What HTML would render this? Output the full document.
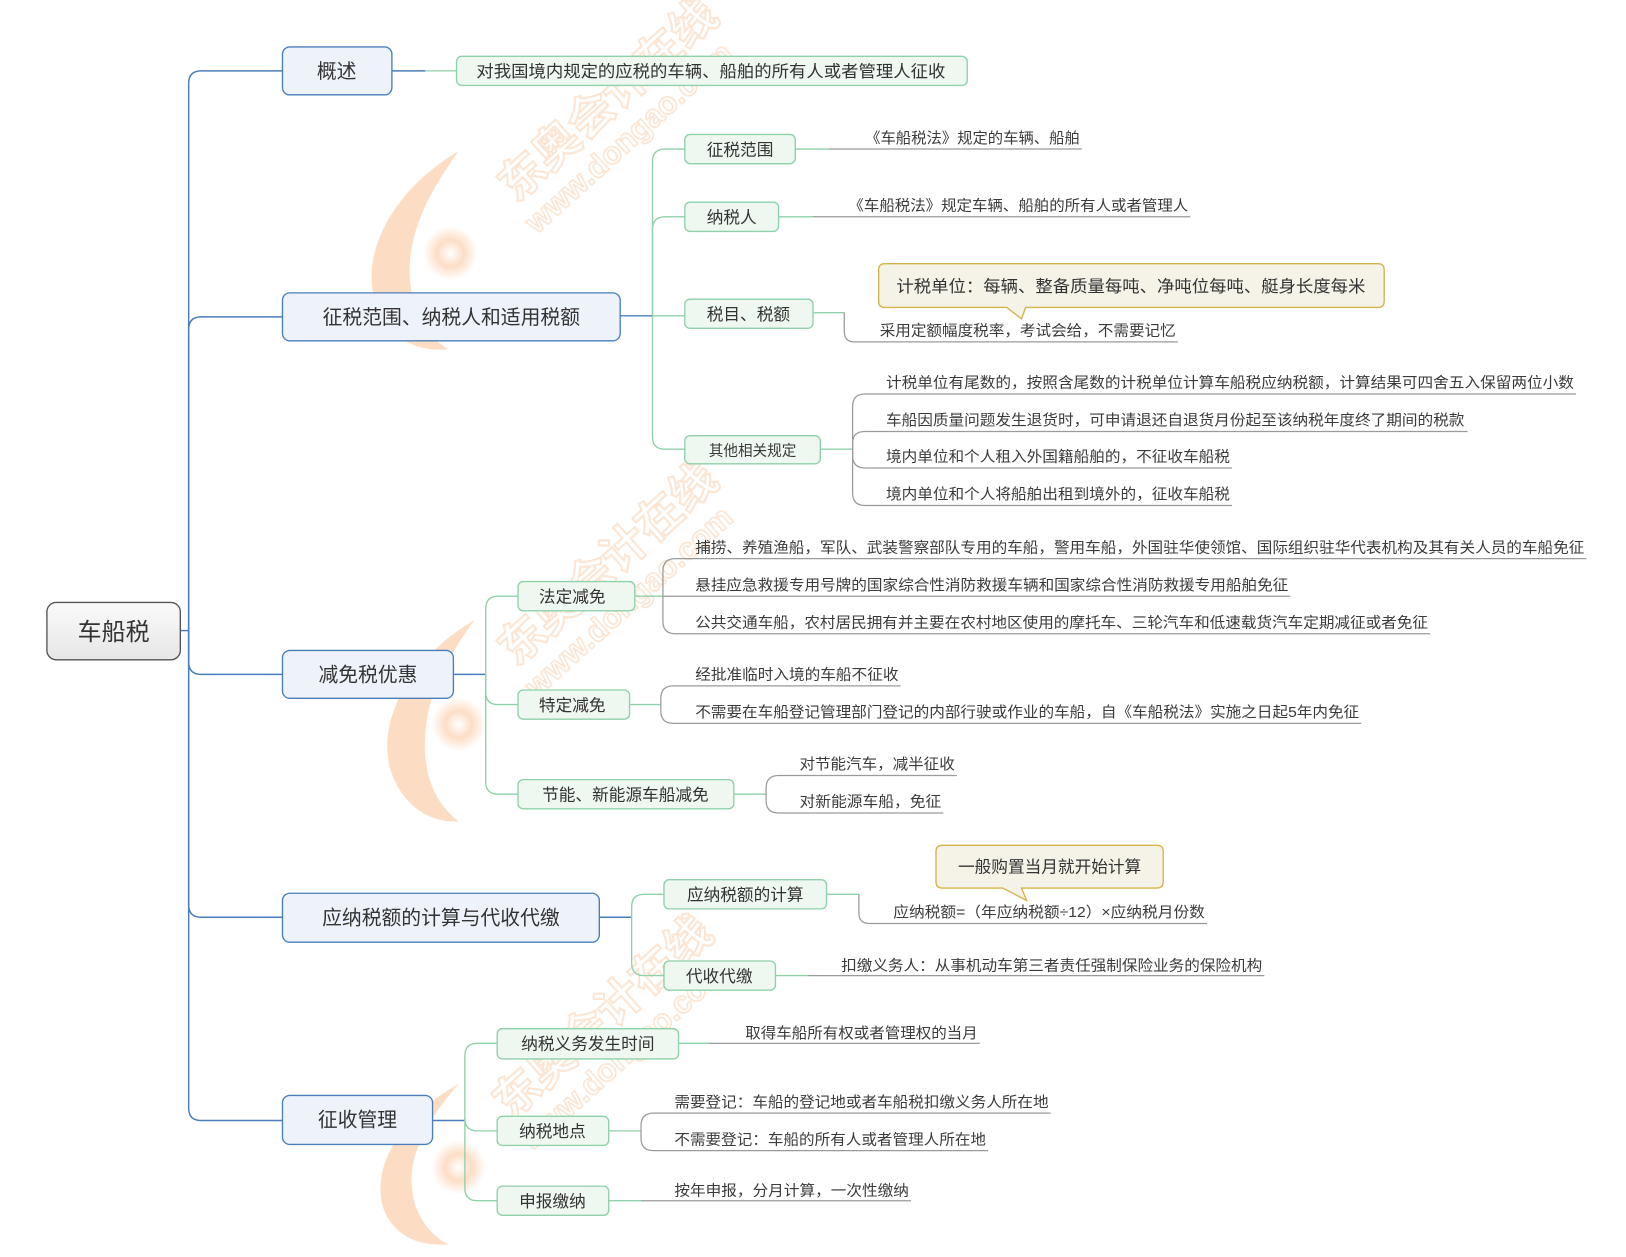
<!DOCTYPE html>
<html><head><meta charset="utf-8">
<style>
html,body{margin:0;padding:0;background:#fff;width:1626px;height:1257px;overflow:hidden}
svg{display:block}
text{font-family:"Liberation Sans","Noto Sans CJK SC",sans-serif;fill:#333}
.l{font-size:14px;fill:#3a3a3a}
.n2{font-size:16px}
.n1{font-size:19px}
.g{fill:none;stroke:#8fd1a8;stroke-width:1.3}
.b{fill:none;stroke:#4a7ebb;stroke-width:1.4}
.u{fill:none;stroke:#9a9a9a;stroke-width:1.2}
.box2{fill:#eef7f0;stroke:#8fd1a8;stroke-width:1.3}
.box1{fill:#eef3fb;stroke:#4a7ebb;stroke-width:1.3}
.wm{font-size:44px;font-weight:bold;fill:none;stroke:#f6b27a;stroke-width:2;opacity:.55}
.wm2{font-size:30px;font-weight:bold;fill:none;stroke:#f6b27a;stroke-width:1.6;opacity:.55}
</style></head><body>
<svg width="1626" height="1257" viewBox="0 0 1560 1206" preserveAspectRatio="none" xmlns="http://www.w3.org/2000/svg">
<defs>
<radialGradient id="rg" cx="50%" cy="50%" r="50%"><stop offset="0" stop-color="#fff"/><stop offset=".5" stop-color="#fbc8a0"/><stop offset="1" stop-color="#fbc8a0" stop-opacity="0"/></radialGradient>
<linearGradient id="root" x1="0" y1="0" x2="0" y2="1"><stop offset="0" stop-color="#fafafa"/><stop offset="1" stop-color="#e6e6e6"/></linearGradient>
</defs>

<!-- watermarks -->
<g opacity=".6">
<path d="M440,145 C380,180 345,240 360,290 C372,325 400,338 430,335 C405,320 392,290 393,255 C395,215 415,180 440,145Z" fill="#fbc79c"/>
<circle cx="432" cy="243" r="26" fill="url(#rg)"/>
<text class="wm" transform="translate(495,195) rotate(-42)">东奥会计在线</text>
<text class="wm2" transform="translate(515,225) rotate(-42)">www.dongao.com</text>
<path d="M455,595 C395,630 360,690 375,740 C387,775 415,790 440,788 C418,772 405,742 408,705 C410,665 430,630 455,595Z" fill="#fbc79c"/>
<circle cx="440" cy="695" r="26" fill="url(#rg)"/>
<text class="wm" transform="translate(495,640) rotate(-42)">东奥会计在线</text>
<text class="wm2" transform="translate(515,670) rotate(-42)">www.dongao.com</text>
<path d="M440,1040 C385,1070 355,1120 368,1160 C378,1185 400,1196 430,1194 C405,1180 393,1155 395,1125 C398,1095 418,1065 440,1040Z" fill="#fbc79c"/>
<circle cx="440" cy="1120" r="26" fill="url(#rg)"/>
<text class="wm" transform="translate(490,1075) rotate(-42)">东奥会计在线</text>
<text class="wm2" transform="translate(510,1105) rotate(-42)">www.dongao.com</text>
</g>

<!-- trunk -->
<path class="b" d="M173,605 H181"/>
<path class="b" d="M181,605 V80 Q181,68 193,68 H271"/>
<path class="b" d="M181,605 V316 Q181,304 193,304 H271"/>
<path class="b" d="M181,605 V635 Q181,647 193,647 H271"/>
<path class="b" d="M181,605 V868 Q181,880 193,880 H271"/>
<path class="b" d="M181,605 V1063 Q181,1075 193,1075 H271"/>

<!-- root -->
<rect x="45" y="578" width="128" height="55" rx="9" fill="url(#root)" stroke="#555" stroke-width="1.3"/>
<text x="109" y="614" font-size="23" text-anchor="middle">车船税</text>

<!-- level1 -->
<rect class="box1" x="271" y="45" width="105" height="46" rx="7"/><text class="n1" x="323" y="75" text-anchor="middle">概述</text>
<rect class="box1" x="271" y="281" width="324" height="46" rx="7"/><text class="n1" x="433" y="311" text-anchor="middle">征税范围、纳税人和适用税额</text>
<rect class="box1" x="271" y="624" width="164" height="46" rx="7"/><text class="n1" x="353" y="654" text-anchor="middle">减免税优惠</text>
<rect class="box1" x="271" y="857" width="304" height="47" rx="7"/><text class="n1" x="423" y="887" text-anchor="middle">应纳税额的计算与代收代缴</text>
<rect class="box1" x="271" y="1051" width="144" height="47" rx="7"/><text class="n1" x="343" y="1081" text-anchor="middle">征收管理</text>

<!-- 概述 leaf -->
<path class="b" d="M376,68 H408"/><path class="g" d="M408,68 H438"/>
<rect class="box2" x="438" y="54" width="490" height="28" rx="5"/>
<text class="n2" x="457" y="74" textLength="450" lengthAdjust="spacingAndGlyphs">对我国境内规定的应税的车辆、船舶的所有人或者管理人征收</text>

<!-- 征税范围 branch -->
<path class="b" d="M595,303 H626"/>
<path class="g" d="M626,303 V155 Q626,143 638,143 H657"/>
<path class="g" d="M626,303 V220 Q626,208 638,208 H657"/>
<path class="g" d="M626,303 H657"/>
<path class="g" d="M626,303 V419 Q626,431 638,431 H657"/>
<rect class="box2" x="657" y="129" width="106" height="28" rx="5"/><text class="n2" x="710" y="149" text-anchor="middle">征税范围</text>
<rect class="box2" x="657" y="194" width="90" height="28" rx="5"/><text class="n2" x="702" y="214" text-anchor="middle">纳税人</text>
<rect class="box2" x="657" y="287" width="123" height="28" rx="5"/><text class="n2" x="718" y="307" text-anchor="middle">税目、税额</text>
<rect class="box2" x="657" y="418" width="130" height="27" rx="5"/><text class="l" x="722" y="437" text-anchor="middle">其他相关规定</text>

<path class="g" d="M763,143 H795"/><path class="u" d="M795,143 H1038"/>
<text class="l" x="830" y="137" textLength="206" lengthAdjust="spacingAndGlyphs">《车船税法》规定的车辆、船舶</text>
<path class="g" d="M747,208 H780"/><path class="u" d="M780,208 H1142"/>
<text class="l" x="814" y="202" textLength="326" lengthAdjust="spacingAndGlyphs">《车船税法》规定车辆、船舶的所有人或者管理人</text>
<path class="g" d="M780,300 H810"/><path class="u" d="M810,300 V318 Q810,328 820,328 H1130"/>
<text class="l" x="844" y="322" textLength="284" lengthAdjust="spacingAndGlyphs">采用定额幅度税率，考试会给，不需要记忆</text>

<!-- callout -->
<path d="M850,253 H1322 Q1328,253 1328,259 V289 Q1328,295 1322,295 H984 L980,306 L966,295 H849 Q843,295 843,289 V259 Q843,253 849,253Z" fill="#f5f3e8" stroke="#d4b44a" stroke-width="1.3"/>
<text class="n2" x="860" y="280" textLength="450" lengthAdjust="spacingAndGlyphs">计税单位：每辆、整备质量每吨、净吨位每吨、艇身长度每米</text>

<!-- 其他 leaves -->
<path class="g" d="M787,431 H818"/>
<path class="u" d="M818,431 V390 Q818,378 830,378 H1512"/>
<path class="u" d="M818,431 V425 Q818,414 830,414 H1408"/>
<path class="u" d="M818,431 V437 Q818,449 830,449 H1182"/>
<path class="u" d="M818,431 V473 Q818,485 830,485 H1182"/>
<text class="l" x="850" y="372" textLength="660" lengthAdjust="spacingAndGlyphs">计税单位有尾数的，按照含尾数的计税单位计算车船税应纳税额，计算结果可四舍五入保留两位小数</text>
<text class="l" x="850" y="408" textLength="555" lengthAdjust="spacingAndGlyphs">车船因质量问题发生退货时，可申请退还自退货月份起至该纳税年度终了期间的税款</text>
<text class="l" x="850" y="443" textLength="330" lengthAdjust="spacingAndGlyphs">境内单位和个人租入外国籍船舶的，不征收车船税</text>
<text class="l" x="850" y="479" textLength="330" lengthAdjust="spacingAndGlyphs">境内单位和个人将船舶出租到境外的，征收车船税</text>

<!-- 减免 branch -->
<path class="b" d="M435,647 H466"/>
<path class="g" d="M466,647 V584 Q466,572 478,572 H497"/>
<path class="g" d="M466,647 V664 Q466,676 478,676 H497"/>
<path class="g" d="M466,647 V750 Q466,762 478,762 H497"/>
<rect class="box2" x="497" y="558" width="112" height="28" rx="5"/><text class="n2" x="549" y="578" text-anchor="middle">法定减免</text>
<rect class="box2" x="497" y="662" width="107" height="28" rx="5"/><text class="n2" x="549" y="682" text-anchor="middle">特定减免</text>
<rect class="box2" x="497" y="748" width="207" height="28" rx="5"/><text class="n2" x="600" y="768" text-anchor="middle">节能、新能源车船减免</text>

<path class="g" d="M609,572 H636"/>
<path class="u" d="M636,572 V548 Q636,536 648,536 H1522"/>
<path class="u" d="M636,572 H1238"/>
<path class="u" d="M636,572 V596 Q636,608 648,608 H1372"/>
<text class="l" x="667" y="530" textLength="853" lengthAdjust="spacingAndGlyphs">捕捞、养殖渔船，军队、武装警察部队专用的车船，警用车船，外国驻华使领馆、国际组织驻华代表机构及其有关人员的车船免征</text>
<text class="l" x="667" y="566" textLength="569" lengthAdjust="spacingAndGlyphs">悬挂应急救援专用号牌的国家综合性消防救援车辆和国家综合性消防救援专用船舶免征</text>
<text class="l" x="667" y="602" textLength="703" lengthAdjust="spacingAndGlyphs">公共交通车船，农村居民拥有并主要在农村地区使用的摩托车、三轮汽车和低速载货汽车定期减征或者免征</text>

<path class="g" d="M604,676 H634"/>
<path class="u" d="M634,676 V670 Q634,658 646,658 H864"/>
<path class="u" d="M634,676 V682 Q634,694 646,694 H1306"/>
<text class="l" x="667" y="652" textLength="195" lengthAdjust="spacingAndGlyphs">经批准临时入境的车船不征收</text>
<text class="l" x="667" y="688" textLength="637" lengthAdjust="spacingAndGlyphs">不需要在车船登记管理部门登记的内部行驶或作业的车船，自《车船税法》实施之日起5年内免征</text>

<path class="g" d="M704,762 H735"/>
<path class="u" d="M735,762 V756 Q735,744 747,744 H918"/>
<path class="u" d="M735,762 V768 Q735,780 747,780 H905"/>
<text class="l" x="767" y="738" textLength="149" lengthAdjust="spacingAndGlyphs">对节能汽车，减半征收</text>
<text class="l" x="767" y="774" textLength="136" lengthAdjust="spacingAndGlyphs">对新能源车船，免征</text>

<!-- 应纳 branch -->
<path class="b" d="M575,880 H606"/>
<path class="g" d="M606,880 V870 Q606,858 618,858 H637"/>
<path class="g" d="M606,880 V924 Q606,936 618,936 H637"/>
<rect class="box2" x="637" y="844" width="156" height="28" rx="5"/><text class="n2" x="715" y="864" text-anchor="middle">应纳税额的计算</text>
<rect class="box2" x="637" y="922" width="107" height="28" rx="5"/><text class="n2" x="690" y="942" text-anchor="middle">代收代缴</text>

<path d="M904,811 H1110 Q1116,811 1116,817 V846 Q1116,852 1110,852 H980 L985,864 L962,852 H904 Q898,852 898,846 V817 Q898,811 904,811Z" fill="#f5f3e8" stroke="#d4b44a" stroke-width="1.3"/>
<text class="n2" x="1007" y="837" text-anchor="middle">一般购置当月就开始计算</text>

<path class="g" d="M793,858 H824"/><path class="u" d="M824,858 V876 Q824,886 834,886 H1158"/>
<text class="l" x="857" y="880" textLength="299" lengthAdjust="spacingAndGlyphs">应纳税额=（年应纳税额÷12）×应纳税月份数</text>
<path class="g" d="M744,936 H775"/><path class="u" d="M775,936 H1213"/>
<text class="l" x="807" y="931" textLength="404" lengthAdjust="spacingAndGlyphs">扣缴义务人：从事机动车第三者责任强制保险业务的保险机构</text>

<!-- 征收管理 branch -->
<path class="b" d="M415,1075 H446"/>
<path class="g" d="M446,1075 V1013 Q446,1001 458,1001 H477"/>
<path class="g" d="M446,1075 V1073 Q446,1085 458,1085 H477"/>
<path class="g" d="M446,1075 V1140 Q446,1152 458,1152 H477"/>
<rect class="box2" x="477" y="987" width="174" height="29" rx="5"/><text class="n2" x="564" y="1007" text-anchor="middle">纳税义务发生时间</text>
<rect class="box2" x="477" y="1071" width="107" height="28" rx="5"/><text class="n2" x="530" y="1091" text-anchor="middle">纳税地点</text>
<rect class="box2" x="477" y="1138" width="107" height="28" rx="5"/><text class="n2" x="530" y="1158" text-anchor="middle">申报缴纳</text>

<path class="g" d="M651,1001 H680"/><path class="u" d="M680,1001 H940"/>
<text class="l" x="715" y="996" textLength="223" lengthAdjust="spacingAndGlyphs">取得车船所有权或者管理权的当月</text>
<path class="g" d="M584,1085 H615"/>
<path class="u" d="M615,1085 V1080 Q615,1068 627,1068 H1008"/>
<path class="u" d="M615,1085 V1092 Q615,1104 627,1104 H948"/>
<text class="l" x="647" y="1062" textLength="359" lengthAdjust="spacingAndGlyphs">需要登记：车船的登记地或者车船税扣缴义务人所在地</text>
<text class="l" x="647" y="1098" textLength="299" lengthAdjust="spacingAndGlyphs">不需要登记：车船的所有人或者管理人所在地</text>
<path class="g" d="M584,1152 H615"/><path class="u" d="M615,1152 H874"/>
<text class="l" x="647" y="1147" textLength="225" lengthAdjust="spacingAndGlyphs">按年申报，分月计算，一次性缴纳</text>
</svg>
</body></html>
